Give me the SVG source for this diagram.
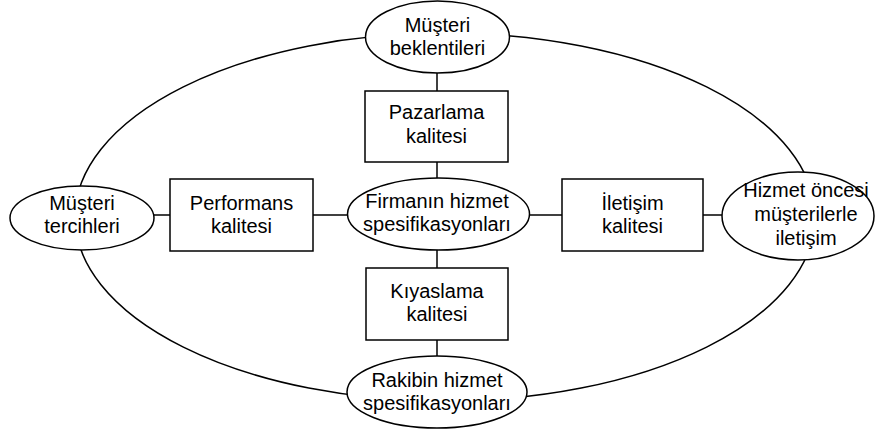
<svg xmlns="http://www.w3.org/2000/svg" width="875" height="434" viewBox="0 0 875 434">
  <style>
    .shape { fill: #ffffff; stroke: #000000; stroke-width: 1.5; }
    .link { fill: none; stroke: #000000; stroke-width: 1.5; }
    text { font-family: "Liberation Sans", Arial, sans-serif; font-size: 20px; fill: #000000; text-anchor: middle; }
  </style>
  <rect width="875" height="434" fill="#ffffff"/>

  <!-- connectors: outer ring and the cross through the centre -->
  <g id="connectors">
    <ellipse class="link" cx="445" cy="217" rx="370" ry="184"/>
    <line class="link" x1="437" y1="73" x2="437" y2="91"/>
    <line class="link" x1="437" y1="162" x2="437" y2="178"/>
    <line class="link" x1="437" y1="250" x2="437" y2="268"/>
    <line class="link" x1="437" y1="340" x2="437" y2="357"/>
    <line class="link" x1="153" y1="215" x2="170" y2="215"/>
    <line class="link" x1="313" y1="215" x2="347" y2="215"/>
    <line class="link" x1="530" y1="215" x2="562" y2="215"/>
    <line class="link" x1="703" y1="215" x2="722" y2="215"/>
  </g>

  <g id="musteri-beklentileri">
    <ellipse class="shape" cx="437.5" cy="37" rx="72" ry="36"/>
    <text x="437.5" y="32">Müşteri</text>
    <text x="437.5" y="55">beklentileri</text>
  </g>

  <g id="pazarlama-kalitesi">
    <rect class="shape" x="365" y="91" width="143" height="71"/>
    <text x="436.5" y="119">Pazarlama</text>
    <text x="436.5" y="143">kalitesi</text>
  </g>

  <g id="musteri-tercihleri">
    <ellipse class="shape" cx="82" cy="218" rx="72" ry="32"/>
    <text x="82" y="210">Müşteri</text>
    <text x="82" y="233">tercihleri</text>
  </g>

  <g id="performans-kalitesi">
    <rect class="shape" x="170" y="179" width="143" height="72"/>
    <text x="241.5" y="210">Performans</text>
    <text x="241.5" y="233">kalitesi</text>
  </g>

  <g id="firma-spesifikasyonlari">
    <ellipse class="shape" cx="438.5" cy="214" rx="91" ry="36"/>
    <text x="437" y="208">Firmanın hizmet</text>
    <text x="437" y="231">spesifikasyonları</text>
  </g>

  <g id="iletisim-kalitesi">
    <rect class="shape" x="562" y="179" width="141" height="72"/>
    <text x="632.5" y="210">İletişim</text>
    <text x="632.5" y="233">kalitesi</text>
  </g>

  <g id="hizmet-oncesi-iletisim">
    <ellipse class="shape" cx="798" cy="216" rx="76" ry="44"/>
    <text x="806" y="197">Hizmet öncesi</text>
    <text x="806" y="221">müşterilerle</text>
    <text x="806" y="245">iletişim</text>
  </g>

  <g id="kiyaslama-kalitesi">
    <rect class="shape" x="366" y="268" width="142" height="72"/>
    <text x="437" y="298">Kıyaslama</text>
    <text x="437" y="321">kalitesi</text>
  </g>

  <g id="rakip-spesifikasyonlari">
    <ellipse class="shape" cx="437" cy="392" rx="90" ry="36"/>
    <text x="437" y="387">Rakibin hizmet</text>
    <text x="437" y="410">spesifikasyonları</text>
  </g>
</svg>
